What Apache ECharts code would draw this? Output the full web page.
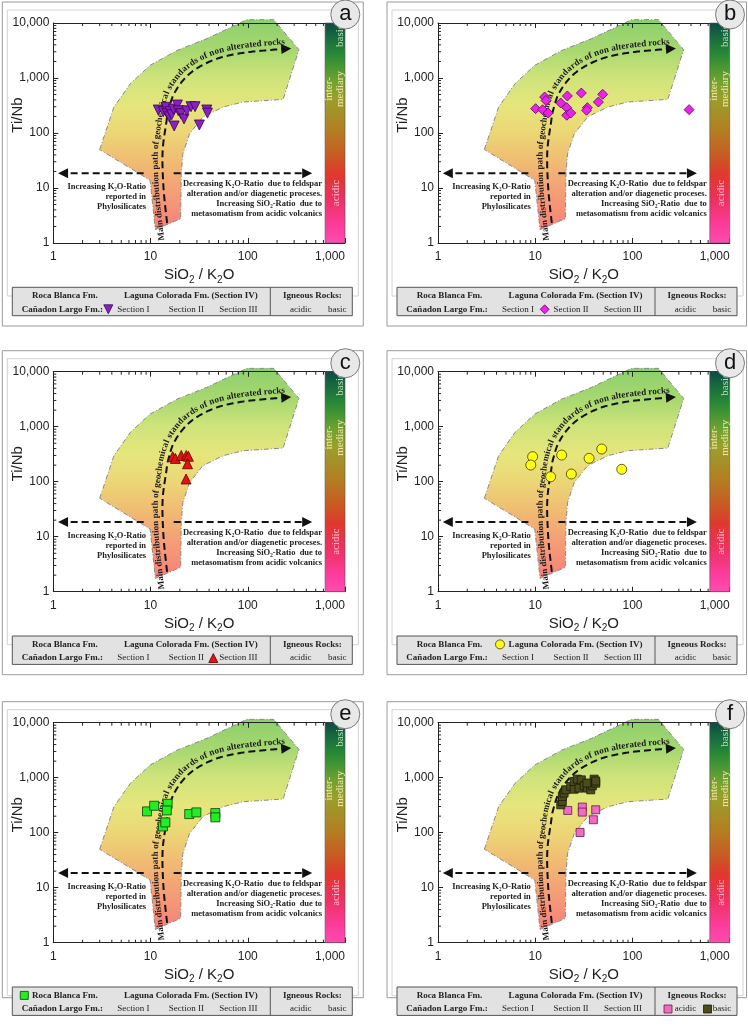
<!DOCTYPE html>
<html>
<head>
<meta charset="utf-8">
<script src="https://cdn.jsdelivr.net/npm/echarts@6/dist/echarts.min.js"></script>
<style>
html,body{margin:0;padding:0;background:#fff;}
#main{width:748px;height:1027px;}
</style>
</head>
<body>
<div id="main"></div>
<script>
// ---- samples (SiO2/K2O, Ti/Nb) ----
var sectionI = [[12,262],[13.5,244],[14.4,293],[14.8,225],[15.6,198],[15.9,244],[16.5,215],[17.2,273],[17.5,134],[18.9,323],[19.3,254],[20.5,225],[22.1,180],[23.6,254],[26.1,301],[28.7,301],[31.8,140],[37.9,262],[38.5,230]];
var sectionII = [[10.1,277],[11.9,265],[12.5,451],[12.9,390],[13.6,231],[18.3,351],[21.1,289],[21.4,471],[21.1,210],[23.2,231],[29.8,533],[34.4,289],[33.7,259],[44.6,366],[49.4,505],[382,266]];
var sectionIII = [[16.9,285],[18,265],[20.7,300],[23.3,300],[24.5,290],[24,212],[23.2,112]];
var lagunaColorada = [[9.4,285],[9.0,201],[14.4,123],[18.7,305],[23.5,138],[35.8,266],[48.3,393],[77.6,168]];
var rocaBlanca = [[9.2,244],[10.9,309],[13.4,130],[14.2,154],[15,335],[14.7,254],[25,218],[29.6,234],[46.4,227],[46.4,190]];
var igneousAcidic = [[21.6,254],[30.5,292],[30.5,237],[41.9,261],[39.6,172],[28.9,101]];
var igneousBasic = [[18.3,322],[19,370],[19,456],[19.8,524],[20.6,602],[23.2,692],[25.1,617],[25.1,853],[27.1,940],[28.2,646],[29.8,914],[31.8,711],[34.4,646],[37.2,602],[38.7,711],[40.3,940],[41.9,794],[41.9,870],[34,800]];

// ---- diagram outline in data space ----
var bandOutline = [[3,50],[4.2,296],[6.2,790],[9.9,1700],[18.7,3170],[38,5200],[98,11500],[185,11500],[336,3270],[231,409],[89.5,366],[55.7,297],[34.6,196],[25.2,97],[21.5,42],[20.7,18.2],[20.4,2.77],[11.2,1.75],[9.9,13.8]];
var mainPath = [[14.8,2.3],[13.6,10],[13.3,45],[14.5,150],[15.3,262],[17.9,563],[25.5,1217],[44.3,2125],[83.4,2810],[170,3230],[280,3450]];
var arrowLeft = [[8.5,18.5],[1.12,18.5]];
var arrowRight = [[17.3,18.5],[460,18.5]];
var colorBarX = [624,1000];
var colorBarY = [1,10000];
var labelLeftAt = [9.0,6.86];
var labelRightAt = [581,6.3];

var pathText = 'Main distribution path of geochemical standards of non alterated rocks';
var leftText = 'Increasing K\u2082O-Ratio\nreported in\nPhylosilicates';
var rightText = 'Decreasing K\u2082O-Ratio  due to feldspar\nalteration and/or diagenetic proceses.\nIncreasing SiO\u2082-Ratio  due to\nmetasomatism from acidic volcanics';

// ---- layout ----
var PX = [53.3, 438], PY = [23, 371.7, 722.7], PW = 291.7, PH = 220;
var SERIF = '"Liberation Serif", "Times New Roman", serif';
var SANS = '"Liberation Sans", Arial, sans-serif';

var panels = [
  {letter:'a', col:0, row:0, sets:[{data:sectionI, symbol:'triangle', rotate:180, size:10, fill:'#8c1fc4', line:'#36084f'}],
   keys:[{shape:'tridown', rx:55, r:2, fill:'#8c1fc4', line:'#36084f'}]},
  {letter:'b', col:1, row:0, sets:[{data:sectionII, symbol:'diamond', rotate:0, size:10, fill:'#ea22ea', line:'#5a0a5a'}],
   keys:[{shape:'diamond', rx:106.7, r:2, fill:'#ea22ea', line:'#5a0a5a'}]},
  {letter:'c', col:0, row:1, sets:[{data:sectionIII, symbol:'triangle', rotate:0, size:10, fill:'#e81010', line:'#5a0000'}],
   keys:[{shape:'triup', rx:160, r:2, fill:'#e81010', line:'#5a0000'}]},
  {letter:'d', col:1, row:1, sets:[{data:lagunaColorada, symbol:'circle', rotate:0, size:10, fill:'#ffff14', line:'#3c3c00'}],
   keys:[{shape:'circle', rx:62, r:1, fill:'#ffff14', line:'#3c3c00'}]},
  {letter:'e', col:0, row:2, sets:[{data:rocaBlanca, symbol:'rect', rotate:0, size:9, fill:'#22ee22', line:'#0b3f0b'}],
   keys:[{shape:'square', rx:-29, r:1, fill:'#22ee22', line:'#0b3f0b'}]},
  {letter:'f', col:1, row:2, sets:[{data:igneousAcidic, symbol:'rect', rotate:0, size:8, fill:'#f06cc2', line:'#6a1650'},
                                  {data:igneousBasic, symbol:'rect', rotate:0, size:8, fill:'#4b4b1e', line:'#1a1a0a'}],
   keys:[{shape:'square', rx:230, r:2, fill:'#f06cc2', line:'#6a1650'}, {shape:'square', rx:269.5, r:2, fill:'#4b4b1e', line:'#1a1a0a'}]}
];

function fmt(v) { return v >= 1000 ? Number(v).toLocaleString('en-US') : String(v); }

var measureCtx = document.createElement('canvas').getContext('2d');

function spline(pts, n) {
  var out = [];
  for (var i = 0; i < pts.length - 1; i++) {
    var p0 = pts[i - 1] || pts[i], p1 = pts[i], p2 = pts[i + 1], p3 = pts[i + 2] || pts[i + 1];
    for (var k = 0; k < n; k++) {
      var t = k / n, t2 = t * t, t3 = t2 * t, q = [];
      for (var d = 0; d < 2; d++) {
        q[d] = 0.5 * (2 * p1[d] + (-p0[d] + p2[d]) * t + (2 * p0[d] - 5 * p1[d] + 4 * p2[d] - p3[d]) * t2 + (-p0[d] + 3 * p1[d] - 3 * p2[d] + p3[d]) * t3);
      }
      out.push(q);
    }
  }
  out.push(pts[pts.length - 1]);
  return out;
}

function walker(pts) {
  var cum = [0];
  for (var i = 1; i < pts.length; i++) {
    cum.push(cum[i - 1] + Math.hypot(pts[i][0] - pts[i - 1][0], pts[i][1] - pts[i - 1][1]));
  }
  var L = cum[cum.length - 1];
  function pos(s) {
    var a, b, t;
    if (s <= 0) { a = pts[0]; b = pts[1]; t = s / (cum[1]); }
    else if (s >= L) { a = pts[pts.length - 2]; b = pts[pts.length - 1]; t = 1 + (s - L) / (L - cum[cum.length - 2]); }
    else {
      var i = 1;
      while (cum[i] < s) i++;
      a = pts[i - 1]; b = pts[i]; t = (s - cum[i - 1]) / (cum[i] - cum[i - 1]);
    }
    return [a[0] + (b[0] - a[0]) * t, a[1] + (b[1] - a[1]) * t];
  }
  function angle(s) {
    var p = pos(s - 2), q = pos(s + 2);
    return Math.atan2(q[1] - p[1], q[0] - p[0]);
  }
  return {L: L, pos: pos, angle: angle, cum: cum};
}

function arrowHead(tip, a, len, hw) {
  var dx = Math.cos(a), dy = Math.sin(a);
  var bx = tip[0] - dx * len, by = tip[1] - dy * len;
  return {type: 'polygon', shape: {points: [tip, [bx - dy * hw, by + dx * hw], [bx + dy * hw, by - dx * hw]]},
          style: {fill: '#111', stroke: null}};
}

function renderDecor(params, api) {
  var c = function (p) { return api.coord(p); };
  var kids = [];
  // shaded field
  kids.push({
    type: 'polygon', shape: {points: bandOutline.map(c)},
    style: {
      fill: new echarts.graphic.LinearGradient(0, 0, 0, 1, [
        {offset: 0, color: '#8ccf6c'}, {offset: 0.15, color: '#a8d870'}, {offset: 0.27, color: '#cde37a'},
        {offset: 0.41, color: '#e6e67c'}, {offset: 0.54, color: '#ecd676'}, {offset: 0.675, color: '#f0bc72'},
        {offset: 0.8, color: '#f4a276'}, {offset: 0.94, color: '#f68a78'}, {offset: 1, color: '#f67e7a'}
      ]),
      stroke: '#8a8a8a', lineWidth: 1, lineDash: [5, 2, 1, 2]
    }
  });
  // minor ticks
  var tk = {stroke: '#222', lineWidth: 1};
  [1, 10, 100].forEach(function (d) {
    for (var m = 2; m <= 9; m++) {
      var b = c([m * d, 1]), t = c([m * d, 10000]);
      kids.push({type: 'line', shape: {x1: b[0], y1: b[1], x2: b[0], y2: b[1] - 3}, style: tk});
      kids.push({type: 'line', shape: {x1: t[0], y1: t[1], x2: t[0], y2: t[1] + 3}, style: tk});
    }
  });
  [1, 10, 100, 1000].forEach(function (d) {
    for (var m = 2; m <= 9; m++) {
      var l = c([1, m * d]);
      kids.push({type: 'line', shape: {x1: l[0], y1: l[1], x2: l[0] + 3, y2: l[1]}, style: tk});
    }
  });
  // main distribution path
  var dense = spline(mainPath.map(c), 24);
  var w = walker(dense);
  var cut = [];
  for (var i = 0; i < dense.length; i++) { if (w.cum[i] < w.L - 8) cut.push(dense[i]); }
  cut.push(w.pos(w.L - 8));
  kids.push({type: 'polyline', shape: {points: cut}, style: {stroke: '#111', lineWidth: 2, lineDash: [7, 4], fill: null}});
  kids.push(arrowHead(dense[dense.length - 1], w.angle(w.L - 3), 10, 5));
  // horizontal arrows
  [arrowLeft, arrowRight].forEach(function (ar) {
    var a = c(ar[0]), b = c(ar[1]);
    var dir = b[0] > a[0] ? 1 : -1;
    kids.push({type: 'line', shape: {x1: a[0], y1: a[1], x2: b[0] - dir * 8, y2: b[1]},
               style: {stroke: '#111', lineWidth: 2, lineDash: [7, 4]}});
    kids.push(arrowHead(b, dir > 0 ? 0 : Math.PI, 10, 5));
  });
  // explanatory text
  var tf = 'bold 8.5px ' + SERIF;
  var pl = c(labelLeftAt), pr = c(labelRightAt);
  kids.push({type: 'text', x: pl[0], y: pl[1], style: {text: leftText, font: tf, fill: '#222', align: 'right', verticalAlign: 'middle', lineHeight: 10}});
  kids.push({type: 'text', x: pr[0], y: pr[1], style: {text: rightText, font: tf, fill: '#222', align: 'right', verticalAlign: 'middle', lineHeight: 10}});
  // text along the path
  var pf = 'bold 9px ' + SERIF;
  measureCtx.font = pf;
  var widths = pathText.split('').map(function (ch) { return measureCtx.measureText(ch).width; });
  var total = widths.reduce(function (s, v) { return s + v; }, 0);
  var s = w.L - total - 6;
  pathText.split('').forEach(function (ch, k) {
    var sm = s + widths[k] / 2;
    var p = w.pos(sm), a = w.angle(sm);
    var ux = Math.sin(a), uy = -Math.cos(a);
    kids.push({type: 'text', x: p[0] + ux * 2.5, y: p[1] + uy * 2.5, rotation: -a,
               style: {text: ch, font: pf, fill: '#1a1a1a', align: 'center', verticalAlign: 'bottom'}});
    s += widths[k];
  });
  return {type: 'group', children: kids};
}

function renderColorBar(params, api) {
  var p0 = api.coord([colorBarX[0], colorBarY[1]]), p1 = api.coord([colorBarX[1], colorBarY[0]]);
  var x0 = p0[0], y0 = p0[1], bw = p1[0] - p0[0], bh = p1[1] - p0[1];
  var ft = '11px ' + SERIF;
  return {type: 'group', children: [
    {type: 'rect', shape: {x: x0, y: y0, width: bw, height: bh},
     style: {fill: new echarts.graphic.LinearGradient(0, 0, 0, 1, [
       {offset: 0, color: '#0c4a48'}, {offset: 0.06, color: '#17683e'}, {offset: 0.15, color: '#2a8c34'},
       {offset: 0.26, color: '#6ea232'}, {offset: 0.34, color: '#98a02c'}, {offset: 0.49, color: '#b47e22'},
       {offset: 0.6, color: '#c85c22'}, {offset: 0.69, color: '#e0382c'}, {offset: 0.8, color: '#ee3060'},
       {offset: 0.92, color: '#fc3c9c'}, {offset: 1, color: '#ff4cb0'}]), stroke: '#555', lineWidth: 0.6}},
    {type: 'text', x: x0 + bw * 0.75, y: y0 + 24, rotation: Math.PI / 2,
     style: {text: 'basic', font: ft, fill: '#bfe2b6', align: 'left', verticalAlign: 'middle'}},
    {type: 'text', x: x0 + bw * 0.5, y: y0 + 66, rotation: Math.PI / 2,
     style: {text: 'inter-\nmediary', font: ft, fill: '#f2e4a6', align: 'center', verticalAlign: 'middle', lineHeight: 11}},
    {type: 'text', x: x0 + bw * 0.55, y: y0 + 170, rotation: Math.PI / 2,
     style: {text: 'acidic', font: ft, fill: '#f8bcd0', align: 'center', verticalAlign: 'middle'}}
  ]};
}

function keyShape(k, cx, cy) {
  var s = 4.5, st = {fill: k.fill, stroke: k.line, lineWidth: 0.8};
  if (k.shape === 'tridown') return {type: 'polygon', shape: {points: [[cx - s, cy - s], [cx + s, cy - s], [cx, cy + s]]}, style: st};
  if (k.shape === 'triup') return {type: 'polygon', shape: {points: [[cx - s, cy + s], [cx + s, cy + s], [cx, cy - s]]}, style: st};
  if (k.shape === 'diamond') return {type: 'polygon', shape: {points: [[cx - s, cy], [cx, cy - s], [cx + s, cy], [cx, cy + s]]}, style: st};
  if (k.shape === 'circle') return {type: 'circle', shape: {cx: cx, cy: cy, r: s}, style: st};
  return {type: 'rect', shape: {x: cx - 4, y: cy - 4, width: 8, height: 8}, style: st};
}

var grids = [], xAxes = [], yAxes = [], series = [], graphics = [];
var axisLineStyle = {color: '#222', width: 1};

panels.forEach(function (pn, i) {
  var gx = PX[pn.col], gy = PY[pn.row];
  grids.push({left: gx, top: gy, width: PW, height: PH, containLabel: false});
  xAxes.push({
    gridIndex: i, type: 'log', logBase: 10, min: 1, max: 1000, position: 'bottom', z: 4,
    axisLine: {show: true, lineStyle: axisLineStyle},
    axisTick: {show: true, inside: true, length: 5, lineStyle: axisLineStyle},
    axisLabel: {margin: 8, fontSize: 12, color: '#222', fontFamily: SANS, formatter: fmt, alignMaxLabel: 'right'},
    splitLine: {show: false},
    name: 'SiO{s|2} / K{s|2}O', nameLocation: 'middle', nameGap: 22,
    nameTextStyle: {fontSize: 15, fontFamily: SANS, color: '#222',
      rich: {s: {fontSize: 10, fontFamily: SANS, color: '#222', lineHeight: 20, verticalAlign: 'bottom'}}}
  });
  xAxes.push({
    gridIndex: i, type: 'log', logBase: 10, min: 1, max: 1000, position: 'top', z: 4,
    axisLine: {show: true, lineStyle: axisLineStyle},
    axisTick: {show: true, inside: true, length: 5, lineStyle: axisLineStyle},
    axisLabel: {show: false}, splitLine: {show: false}
  });
  yAxes.push({
    gridIndex: i, type: 'log', logBase: 10, min: 1, max: 10000, position: 'left', z: 4,
    axisLine: {show: true, lineStyle: axisLineStyle},
    axisTick: {show: true, inside: true, length: 5, lineStyle: axisLineStyle},
    axisLabel: {margin: 4, fontSize: 12, color: '#222', fontFamily: SANS, formatter: fmt},
    splitLine: {show: false}
  });
  series.push({type: 'custom', xAxisIndex: 2 * i, yAxisIndex: i, data: [[1, 1]], renderItem: renderDecor, silent: true, z: 1});
  pn.sets.forEach(function (st) {
    series.push({type: 'scatter', xAxisIndex: 2 * i, yAxisIndex: i, data: st.data, symbol: st.symbol,
      symbolSize: st.size, symbolRotate: st.rotate, silent: true, z: 3,
      itemStyle: {color: st.fill, borderColor: st.line, borderWidth: 0.8, opacity: 1}});
  });
  series.push({type: 'custom', xAxisIndex: 2 * i, yAxisIndex: i, data: [[1, 1]], renderItem: renderColorBar, silent: true, z: 5});

  // frames
  var fb = pn.row === 2 ? 296 : 324;
  var fr = Math.min(gx + 310, 746.5);
  graphics.push({type: 'rect', silent: true, z: 0, shape: {x: gx - 51, y: gy - 21, width: fr - (gx - 51), height: fb},
    style: {fill: null, stroke: '#9a9a9a', lineWidth: 1}});
  graphics.push({type: 'rect', silent: true, z: 0, shape: {x: gx - 46, y: gy - 13, width: 351, height: 286},
    style: {fill: null, stroke: '#d2d2d2', lineWidth: 1}});
  // y axis title
  graphics.push({type: 'text', silent: true, x: gx - 35, y: gy + 92, rotation: Math.PI / 2,
    style: {text: 'Ti/Nb', font: '15px ' + SANS, fill: '#222', align: 'center', verticalAlign: 'middle'}});
  // legend table
  var lx = gx - 41, ly = gy + 264.3, r1 = gy + 272.7, r2 = gy + 286.3;
  graphics.push({type: 'rect', silent: true, z: 2, shape: {x: lx, y: ly, width: 340, height: 28.4},
    style: {fill: '#e2e2e2', stroke: '#555', lineWidth: 1}});
  graphics.push({type: 'line', silent: true, z: 3, shape: {x1: gx + 217, y1: ly, x2: gx + 217, y2: ly + 28.4},
    style: {stroke: '#555', lineWidth: 1}});
  var bold = 'bold 9px ' + SERIF, reg = '9px ' + SERIF;
  [['Roca Blanca Fm.', 11.5, r1, bold], ['Laguna Colorada Fm. (Section IV)', 137.5, r1, bold], ['Igneous Rocks:', 259, r1, bold],
   ['Ca\u00f1adon Largo Fm.:', 9, r2, bold], ['Section I', 80, r2, reg], ['Section II', 133, r2, reg], ['Section III', 185, r2, reg],
   ['acidic', 247.5, r2, reg], ['basic', 284, r2, reg]].forEach(function (t) {
    graphics.push({type: 'text', silent: true, z: 3, x: gx + t[1], y: t[2],
      style: {text: t[0], font: t[3], fill: '#222', align: 'center', verticalAlign: 'middle'}});
  });
  pn.keys.forEach(function (k) {
    var ks = keyShape(k, gx + k.rx, k.r === 1 ? r1 : r2);
    ks.silent = true; ks.z = 4;
    graphics.push(ks);
  });
  // panel letter
  graphics.push({type: 'circle', silent: true, z: 50, shape: {cx: gx + 292, cy: gy - 8.5, r: 14.5},
    style: {fill: '#e8e8e8', stroke: '#7a7a7a', lineWidth: 1}});
  graphics.push({type: 'text', silent: true, z: 51, x: gx + 292, y: gy - 9,
    style: {text: pn.letter, font: '22px ' + SANS, fill: '#111', align: 'center', verticalAlign: 'middle'}});
});

var chart = echarts.init(document.getElementById('main'), null, {renderer: 'canvas'});
chart.setOption({
  backgroundColor: '#ffffff',
  animation: false,
  grid: grids,
  xAxis: xAxes,
  yAxis: yAxes,
  series: series,
  graphic: {elements: graphics}
});
window.addEventListener('resize', function () { chart.resize(); });
</script>
</body>
</html>
